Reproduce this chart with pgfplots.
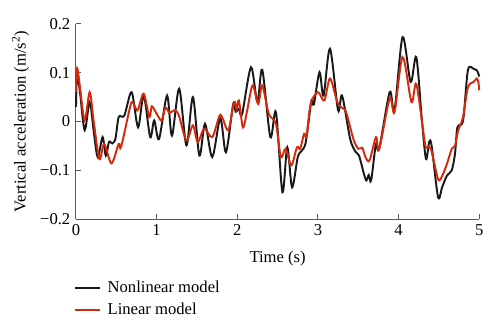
\documentclass[border=0pt]{standalone}
\usepackage{fontspec}
\setmainfont{Liberation Serif}
\usepackage{pgfplots}
\pgfplotsset{compat=1.18}
\definecolor{myred}{RGB}{212,42,14}
\definecolor{myblack}{RGB}{25,25,25}
\begin{document}
\begin{tikzpicture}[x=1pt,y=1pt]
\path[use as bounding box] (-47.1,-67.6) rectangle (262.9,135.8);
\begin{axis}[
  at={(0,0)}, anchor=south west,
  width=250pt, height=121pt, scale only axis,
  xmin=0, xmax=5, ymin=-0.2, ymax=0.2,
  axis x line*=bottom, axis y line*=left,
  axis line style={black!65, line width=0.6pt, -},
  tick style={black!65, line width=0.6pt},
  tick align=inside, major tick length=3pt,
  xtick={0,1,2,3,4,5}, xticklabels={0,1,2,3,4,5},
  ytick={-0.2,-0.1,0,0.1,0.2}, yticklabels={−0.2,−0.1,0,0.1,0.2},
  tick label style={font=\fontsize{10.3}{12}\selectfont},
  label style={font=\fontsize{10.3}{12}\selectfont},
  xlabel={Time (s)},
  xlabel style={yshift=-2.5pt},
  ylabel={Vertical acceleration (m/s\textsuperscript{2})},
  legend style={at={(axis description cs:-0.005,-0.30)}, anchor=north west, draw=none, fill=none,
    font=\fontsize{10.3}{12}\selectfont, inner xsep=0pt, inner ysep=0pt, row sep=1.2pt,
    legend cell align=left,
    nodes={inner xsep=4pt}},
  legend image code/.code={\draw[#1] (0pt,0pt) -- (15.5pt,0pt);},
  legend image post style={line width=1.2pt},
  clip=false,
]
\addplot[myblack, line width=1.2pt, smooth, tension=0.5] coordinates {
(0,0.03) (0.015,0.10) (0.05,0.06) (0.108,-0.018) (0.17,0.04) (0.22,-0.02)
(0.27,-0.073) (0.33,-0.032) (0.37,-0.07) (0.41,-0.042) (0.45,-0.045) (0.49,-0.035)
(0.53,0.009) (0.60,0.012) (0.69,0.06) (0.77,-0.012) (0.84,0.053) (0.92,-0.032)
(0.97,0.002) (1.03,-0.036) (1.13,0.053) (1.19,-0.029) (1.28,0.067) (1.37,-0.049)
(1.45,0.05) (1.53,-0.07) (1.60,-0.005) (1.69,-0.073) (1.79,0.006) (1.86,-0.063)
(1.95,0.036) (1.98,0.02) (2.02,0.026) (2.06,0.015) (2.17,0.111) (2.25,0.04)
(2.31,0.106) (2.41,-0.032) (2.48,0.019) (2.56,-0.145) (2.62,-0.053) (2.68,-0.135)
(2.75,-0.073) (2.80,-0.06) (2.85,-0.042) (2.92,0.043) (2.95,0.035) (3.02,0.101)
(3.07,0.053) (3.15,0.149) (3.25,0.023) (3.30,0.053) (3.40,-0.036) (3.47,-0.063)
(3.51,-0.07) (3.57,-0.107) (3.60,-0.121) (3.63,-0.11) (3.66,-0.121) (3.72,-0.046)
(3.76,-0.056) (3.89,0.06) (3.95,0.023) (4.05,0.173) (4.15,0.081) (4.22,0.132)
(4.29,0.002) (4.34,-0.077) (4.38,-0.042) (4.41,-0.05) (4.49,-0.155) (4.54,-0.135)
(4.60,-0.111) (4.66,-0.1) (4.70,-0.066) (4.73,-0.012) (4.80,0.002) (4.86,0.105)
(4.93,0.108) (4.97,0.105) (4.99,0.098) (5.0,0.092)
};
\addlegendentry{Nonlinear model}
\addplot[myred, line width=1.2pt, smooth, tension=0.5] coordinates {
(0,0.06) (0.015,0.109) (0.05,0.07) (0.108,0.002) (0.17,0.06) (0.22,0.0)
(0.29,-0.077) (0.35,-0.046) (0.44,-0.086) (0.53,-0.046) (0.56,-0.052) (0.67,0.029)
(0.70,0.04) (0.745,0.026) (0.77,0.024) (0.84,0.057) (0.91,0.009) (0.94,0.031)
(0.99,0.019) (1.06,0.002) (1.11,0.028) (1.16,0.018) (1.23,0.023) (1.28,0.01)
(1.37,-0.039) (1.45,-0.008) (1.51,-0.042) (1.59,-0.015) (1.69,-0.032) (1.78,0.012)
(1.82,0.006) (1.89,-0.018) (1.96,0.04) (1.99,0.025) (2.02,0.043) (2.07,-0.012)
(2.12,0.02) (2.19,0.074) (2.26,0.036) (2.31,0.074) (2.39,0.016) (2.48,-0.005)
(2.54,-0.073) (2.60,-0.056) (2.67,-0.09) (2.74,-0.053) (2.78,-0.056) (2.83,-0.025)
(2.86,-0.03) (2.91,0.036) (3.00,0.06) (3.08,0.043) (3.15,0.088) (3.24,0.04)
(3.30,0.028) (3.35,0.019) (3.44,-0.036) (3.50,-0.056) (3.55,-0.054) (3.59,-0.073)
(3.64,-0.08) (3.72,-0.032) (3.76,-0.056) (3.89,0.047) (3.95,0.019) (4.05,0.132)
(4.16,0.04) (4.22,0.077) (4.31,-0.025) (4.34,-0.053) (4.40,-0.056) (4.49,-0.118)
(4.54,-0.112) (4.60,-0.087) (4.66,-0.056) (4.70,-0.05) (4.74,-0.018) (4.80,0.009)
(4.86,0.07) (4.93,0.081) (4.97,0.088) (4.99,0.08) (5.0,0.064)
};
\addlegendentry{Linear model}
\end{axis}
\end{tikzpicture}
\end{document}
